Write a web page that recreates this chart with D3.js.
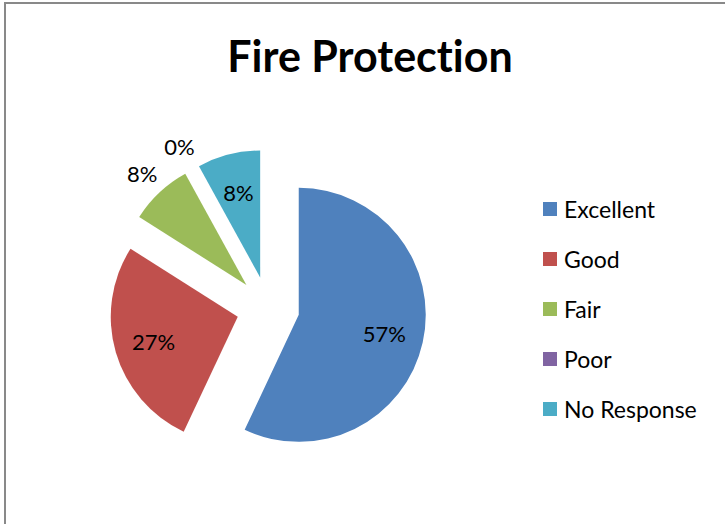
<!DOCTYPE html>
<html>
<head>
<meta charset="utf-8">
<script src="https://cdn.jsdelivr.net/npm/d3@7"></script>
<style>
  html, body { margin: 0; padding: 0; background: #fff; }
  svg { display: block; }
  text { font-family: Lato, "Open Sans", sans-serif; fill: #000; font-variant-ligatures: none; }
</style>
</head>
<body>
<svg id="chart" width="725" height="524"></svg>
<script>
// Survey responses for fire protection, in percent
const categories = ["Excellent", "Good", "Fair", "Poor", "No Response"];
const values = [57, 27, 8, 0, 8];
const colors = ["#4F81BD", "#C0504D", "#9BBB59", "#8064A2", "#4BACC6"];
// slices whose percentage sits outside the pie
const outsideLabels = ["Fair", "Poor"];

const svg = d3.select("#chart");
const W = 725, H = 524;

// chart frame
svg.append("rect")
  .attr("x", 5).attr("y", 3)
  .attr("width", W + 10).attr("height", H + 10)
  .attr("fill", "#fff")
  .attr("stroke", "#898989")
  .attr("stroke-width", 2);

svg.append("text")
  .attr("x", 370).attr("y", 72)
  .attr("text-anchor", "middle")
  .style("font-size", "43px")
  .style("font-weight", "bold")
  .text("Fire Protection");

const cx = 268, cy = 308, r = 127, explode = 31.5;

const pie = d3.pie().sort(null).value(d => d.value);
const data = categories.map((c, i) => ({ name: c, value: values[i], color: colors[i] }));
const arcs = pie(data);
const arc = d3.arc().innerRadius(0).outerRadius(r);

const g = svg.append("g").attr("transform", `translate(${cx},${cy})`);

function offset(d, dist) {
  const a = (d.startAngle + d.endAngle) / 2;
  return [Math.sin(a) * dist, -Math.cos(a) * dist];
}

const slices = g.selectAll("g.slice").data(arcs).enter().append("g")
  .attr("class", "slice")
  .attr("transform", d => `translate(${offset(d, explode)})`);

slices.filter(d => d.value > 0).append("path")
  .attr("d", arc)
  .attr("fill", d => d.data.color);

slices.append("text")
  .attr("text-anchor", "middle")
  .attr("dominant-baseline", "central")
  .style("font-size", "22px")
  .attr("transform", d => {
    const outside = outsideLabels.includes(d.data.name);
    return `translate(${offset(d, outside ? r * 1.2 : r * 0.69)})`;
  })
  .text(d => d3.format(".0%")(d.value / d3.sum(values)));

// legend
const legend = svg.append("g").attr("transform", "translate(543,209)");
const item = legend.selectAll("g").data(data).enter().append("g")
  .attr("transform", (d, i) => `translate(0,${i * 50})`);
item.append("rect")
  .attr("x", 0).attr("y", -7)
  .attr("width", 14).attr("height", 14)
  .attr("fill", d => d.color);
item.append("text")
  .attr("x", 21).attr("y", 0)
  .attr("dominant-baseline", "central")
  .style("font-size", "23px")
  .text(d => d.name);
</script>
</body>
</html>
